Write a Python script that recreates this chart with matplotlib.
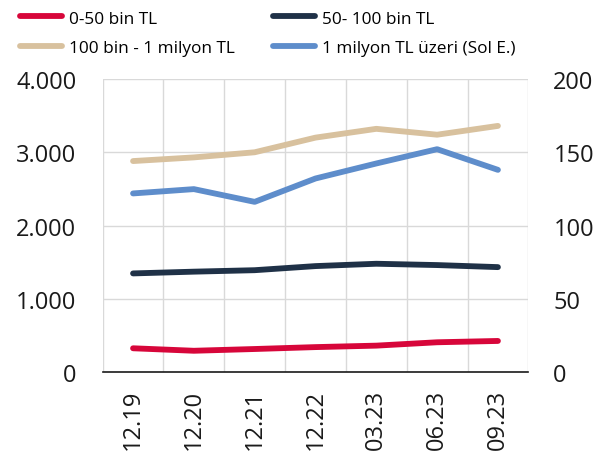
import matplotlib
matplotlib.use("Agg")
import matplotlib.pyplot as plt
from matplotlib.ticker import FuncFormatter, MultipleLocator

plt.rcParams['font.family'] = ['Open Sans', 'DejaVu Sans']

categories = ["12.19", "12.20", "12.21", "12.22", "03.23", "06.23", "09.23"]
s_0_50 = [16.2, 14.5, 15.7, 17.0, 18.0, 20.3, 21.2]          # right axis
s_50_100 = [67.3, 68.5, 69.5, 72.3, 73.9, 73.0, 71.6]        # right axis
s_100_1m = [144.0, 146.5, 150.0, 160.0, 166.0, 162.0, 168.0] # right axis
s_1m_plus = [2438, 2497, 2323, 2642, 2847, 3042, 2760]       # left axis (Sol E.)

labels = ["0-50 bin TL", "50- 100 bin TL", "100 bin - 1 milyon TL", "1 milyon TL üzeri (Sol E.)"]
colors = ["#D7063A", "#1F3147", "#D8C19E", "#5E8DCB"]

fig = plt.figure(figsize=(6.11, 4.56), dpi=100)
ax = fig.add_axes([0.168, 0.182, 0.6967, 0.6425])
ax2 = ax.twinx()

x = list(range(len(categories)))
lw = 4.2
l4, = ax.plot(x, s_1m_plus, color=colors[3], lw=lw, solid_capstyle='round', label=labels[3], zorder=3)
l1, = ax2.plot(x, s_0_50, color=colors[0], lw=lw, solid_capstyle='round', label=labels[0])
l2, = ax2.plot(x, s_50_100, color=colors[1], lw=lw, solid_capstyle='round', label=labels[1])
l3, = ax2.plot(x, s_100_1m, color=colors[2], lw=lw, solid_capstyle='round', label=labels[2])

ax.set_xlim(-0.5, len(categories) - 0.5)
ax.set_ylim(0, 4000)
ax2.set_ylim(0, 200)
ax.yaxis.set_major_locator(MultipleLocator(1000))
ax2.yaxis.set_major_locator(MultipleLocator(50))
ax.yaxis.set_major_formatter(FuncFormatter(lambda v, p: f"{int(v):,}".replace(",", ".")))

ax.set_xticks(x)
ax.set_xticklabels(categories, rotation=90)
ax.set_xticks([i + 0.5 for i in range(-1, len(categories))], minor=True)
ax.grid(True, which='minor', axis='x', color='#D9D9D9', lw=1)
ax.grid(True, which='major', axis='y', color='#D9D9D9', lw=1)
ax.set_axisbelow(True)

for a in (ax, ax2):
    a.tick_params(axis='both', which='both', length=0, labelsize=17, colors='#1a1a1a')
    for s in ['top', 'right', 'left', 'bottom']:
        a.spines[s].set_visible(False)
ax.spines['bottom'].set_visible(True)
ax.spines['bottom'].set_color('#1a1a1a')
ax.spines['bottom'].set_linewidth(1.2)
ax.tick_params(axis='y', pad=19)
ax.tick_params(axis='x', pad=12)
ax2.tick_params(axis='y', pad=18)
ax.patch.set_visible(False)

leg = fig.legend([l1, l3, l2, l4], [labels[0], labels[2], labels[1], labels[3]],
                 ncol=2, loc='upper left', bbox_to_anchor=(0.021, 0.99), frameon=False,
                 fontsize=12.4, handlelength=2.45, handletextpad=0.4, columnspacing=2.2,
                 labelspacing=0.8, borderaxespad=0)

fig.savefig("out.png", dpi=100)
